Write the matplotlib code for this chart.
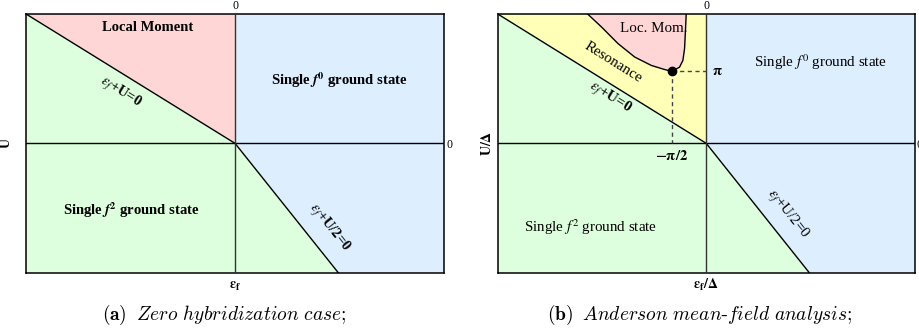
import matplotlib
matplotlib.use("Agg")
import matplotlib.pyplot as plt
from matplotlib.patches import Polygon

plt.rcParams["font.family"] = ["Liberation Serif", "DejaVu Serif"]
plt.rcParams["mathtext.fontset"] = "stix"

# Schematic phase diagram in normalized (eps_f, U) coordinates
eps_lim = (-1.0, 1.0)
u_lim = (-1.0, 1.0)

# eps_f + U = 0 boundary
moment_eps = [-1.0, 0.0]
moment_u = [1.0, 0.0]

# eps_f + U/2 = 0 boundary
valence_eps = [0.0, 0.494]
valence_u = [0.0, -1.0]

# Mean-field local-moment boundary (panel b)
lm_eps = [-0.569, -0.502, -0.423, -0.343, -0.263, -0.200, -0.165,
          -0.128, -0.112, -0.104, -0.100, -0.096]
lm_u = [1.000, 0.899, 0.771, 0.667, 0.602, 0.571, 0.556,
        0.589, 0.641, 0.731, 0.860, 1.000]

# Critical point (eps_f/Delta = -pi/2, U/Delta = pi)
crit_eps = -0.165
crit_u = 0.556
crit_eps_label = r"$\mathbf{-\pi/2}$"
crit_u_label = r"$\mathbf{\pi}$"

pink = "#ffd6d6"
green = "#ddffdd"
blue = "#ddeeff"
yellow = "#ffffb8"

fig = plt.figure(figsize=(9.2, 3.33), dpi=100)
ax_a = fig.add_axes([0.0283, 0.1811, 0.4543, 0.7769])
ax_b = fig.add_axes([0.5410, 0.1811, 0.4533, 0.7769])


def base_regions(ax, upper_left_color):
    lo_e, hi_e = eps_lim
    lo_u, hi_u = u_lim
    green_poly = [(lo_e, lo_u), (moment_eps[0], moment_u[0]),
                  (moment_eps[1], moment_u[1]), (valence_eps[1], valence_u[1])]
    blue_poly = [(moment_eps[1], hi_u), (hi_e, hi_u), (hi_e, lo_u),
                 (valence_eps[1], valence_u[1]), (valence_eps[0], valence_u[0])]
    tri_poly = [(moment_eps[0], moment_u[0]), (moment_eps[1], hi_u),
                (moment_eps[1], moment_u[1])]
    ax.add_patch(Polygon(green_poly, closed=True, fc=green, ec="none", zorder=0))
    ax.add_patch(Polygon(blue_poly, closed=True, fc=blue, ec="none", zorder=0))
    ax.add_patch(Polygon(tri_poly, closed=True, fc=upper_left_color, ec="none", zorder=0))

    ax.plot(moment_eps, moment_u, color="black", lw=1.0, zorder=3)
    ax.plot(valence_eps, valence_u, color="black", lw=1.0, zorder=3)
    ax.axhline(0, color="black", lw=1.0, zorder=3)
    ax.axvline(0, color="#333333", lw=1.0, zorder=3)

    ax.set_xlim(*eps_lim)
    ax.set_ylim(*u_lim)
    ax.xaxis.tick_top()
    ax.yaxis.tick_right()
    ax.set_xticks([0])
    ax.set_yticks([0])
    ax.set_xticklabels(["0"])
    ax.set_yticklabels(["0"])
    ax.tick_params(axis="x", length=0, pad=1.2, labelsize=8.5)
    ax.tick_params(axis="y", length=0, pad=1.5, labelsize=8.5)
    for sp in ax.spines.values():
        sp.set_linewidth(1.1)
        sp.set_color("black")


def axis_labels(ax, xlabel, xy, ylabel, yx):
    ax.text(0.5, xy, xlabel, transform=ax.transAxes, ha="center", va="center",
            fontsize=10, fontweight="bold")
    ax.text(yx, 0.5, ylabel, transform=ax.transAxes, ha="center", va="center",
            rotation=90, fontsize=10, fontweight="bold")


# ---------------- panel (a) ----------------
base_regions(ax_a, pink)
axis_labels(ax_a, r"$\mathbf{\epsilon_f}$", -0.054, "U", -0.048)

bold = dict(fontsize=10.5, fontweight="bold", ha="center", va="center", zorder=5)
ax_a.text(-0.419, 0.897, "Local Moment", **bold)
ax_a.text(0.498, 0.488, r"Single $\boldsymbol{f}^{\mathbf{0}}$ ground state", **bold)
ax_a.text(-0.498, -0.519, r"Single $\boldsymbol{f}^{\mathbf{2}}$ ground state", **bold)
ax_a.text(-0.548, 0.395, r"$\boldsymbol{\epsilon_f}$+U=0", rotation=-32, **bold)
ax_a.text(0.450, -0.651, r"$\boldsymbol{\epsilon_f}$+U/2=0", rotation=-51.5, **bold)

# ---------------- panel (b) ----------------
base_regions(ax_b, yellow)
ax_b.add_patch(Polygon(list(zip(lm_eps, lm_u)), closed=True, fc=pink, ec="none", zorder=1))
ax_b.plot(lm_eps, lm_u, color="black", lw=1.0, zorder=3)
ax_b.plot([crit_eps, 0], [crit_u, crit_u], color="#444444", lw=1.0, dashes=(3, 2.5), zorder=3)
ax_b.plot([crit_eps, crit_eps], [crit_u, 0], color="#444444", lw=1.0, dashes=(3, 2.5), zorder=3)
ax_b.plot([crit_eps], [crit_u], "o", color="black", ms=6, zorder=6)
ax_b.annotate(crit_u_label, (0, crit_u), xytext=(4, 0), textcoords="offset points",
              ha="left", va="center", fontsize=10.5)
ax_b.annotate(crit_eps_label, (crit_eps, 0), xytext=(0, -9), textcoords="offset points",
              ha="center", va="center", fontsize=10.5)

axis_labels(ax_b, r"$\mathbf{\epsilon_f/\Delta}$", -0.047, r"$\mathbf{U/\Delta}$", -0.026)

reg = dict(fontsize=10.8, ha="center", va="center", zorder=5)
ax_b.text(-0.252, 0.884, "Loc. Mom.", **reg)
ax_b.text(-0.448, 0.628, "Resonance", rotation=-32, **reg)
ax_b.text(0.549, 0.626, r"Single $f^0$ ground state", **reg)
ax_b.text(-0.554, -0.649, r"Single $f^2$ ground state", **reg)
ax_b.text(-0.463, 0.349, r"$\boldsymbol{\epsilon_f}$+U=0", rotation=-32,
          fontweight="bold", **reg)
ax_b.text(0.387, -0.547, r"$\epsilon_f$+U/2=0", rotation=-51.5, **reg)

# ---------------- captions ----------------
cap = dict(fontsize=14, ha="center", va="center", math_fontfamily="cm")
fig.text(0.2435, 0.055, r"$\mathbf{(a)}$  $\mathit{Zero\ hybridization\ case;}$", **cap)
fig.text(0.761, 0.055, r"$\mathbf{(b)}$  $\mathit{Anderson\ mean}$-$\mathit{field\ analysis;}$", **cap)

fig.savefig("out.png", dpi=100)
